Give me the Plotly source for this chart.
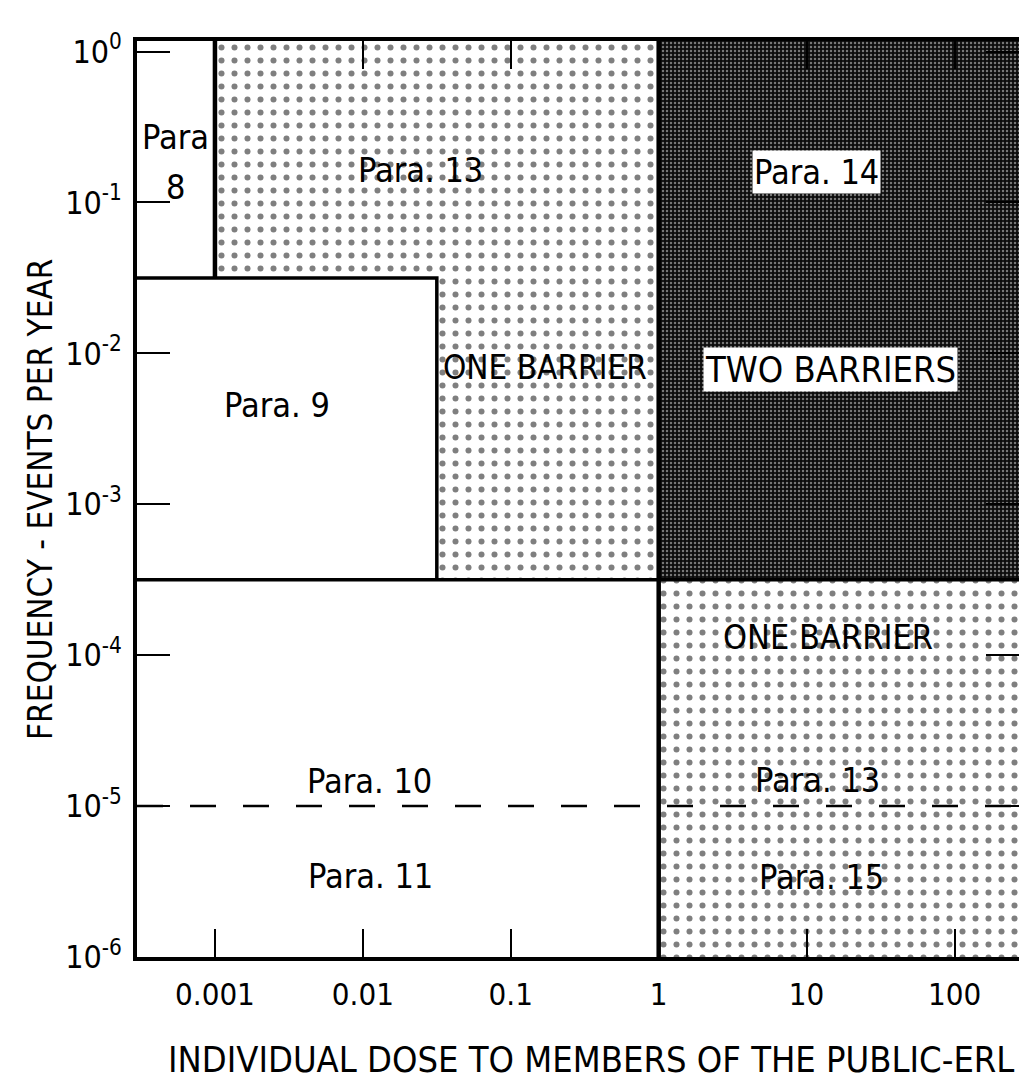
import math
import plotly.graph_objects as go

# ---- data (log-log dose / frequency diagram) ----
x_range_log = [-3.527, 2.436]          # visible dose range (log10)
y_range_log = [-6.0, 0.07]             # visible frequency range (log10)
x_min, x_max = 10 ** x_range_log[0], 10 ** x_range_log[1]
y_min, y_max = 10 ** y_range_log[0], 10 ** y_range_log[1]

dose_para8_limit = 0.001               # right edge of Para 8 box
dose_para9_limit = 10 ** -1.5          # right edge of Para 9 box
dose_erl = 1.0                         # ERL boundary
freq_para9_top = 10 ** -1.5            # top of Para 9 box
freq_limit = 10 ** -3.5                # main horizontal boundary
freq_dashed = 1e-5                     # Para 10 / Para 11 boundary

x_tickvals = [0.001, 0.01, 0.1, 1, 10, 100]
x_ticktext = ["0.001", "0.01", "0.1", "1", "10", "100"]
y_tickvals = [1e-6, 1e-5, 1e-4, 1e-3, 1e-2, 1e-1, 1]
y_ticktext = ["10<sup>-6</sup>", "10<sup>-5</sup>", "10<sup>-4</sup>", "10<sup>-3</sup>",
              "10<sup>-2</sup>", "10<sup>-1</sup>", "10<sup>0</sup>"]

label_text = ["Para", "8", "Para. 13", "Para. 9", "ONE BARRIER", "Para. 14", "TWO BARRIERS",
              "ONE BARRIER", "Para. 10", "Para. 11", "Para. 13", "Para. 15"]
label_x = [10 ** -3.264, 10 ** -3.264, 10 ** -1.612, 10 ** -2.579, 10 ** -0.771, 10 ** 1.064,
           10 ** 1.163, 10 ** 1.145, 10 ** -1.954, 10 ** -1.948, 10 ** 1.077, 10 ** 1.098]
label_y = [10 ** -0.565, 10 ** -0.896, 10 ** -0.783, 10 ** -2.343, 10 ** -2.092, 10 ** -0.796,
           10 ** -2.105, 10 ** -3.877, 10 ** -4.834, 10 ** -5.463, 10 ** -4.83, 10 ** -5.469]
label_size = [34, 34, 34, 34, 33, 34, 36, 34, 34, 34, 34, 34]
label_boxed = [False, False, False, False, False, True, True, False, False, False, False, False]

FONT = "DejaVu Sans Condensed, DejaVu Sans, sans-serif"
dots = dict(shape=".", size=13, solidity=0.17, fgcolor="black", bgcolor="white")

fig = go.Figure()

# dotted region (Para 13 upper) - L shape around the Para 9 box
fig.add_trace(go.Scatter(
    x=[dose_para8_limit, dose_erl, dose_erl, dose_para9_limit, dose_para9_limit, dose_para8_limit, dose_para8_limit],
    y=[y_max, y_max, freq_limit, freq_limit, freq_para9_top, freq_para9_top, y_max],
    fill="toself", fillcolor="white", fillpattern=dots, mode="lines",
    line=dict(width=0, color="rgba(0,0,0,0)"), hoverinfo="skip", showlegend=False))

# dark region (Para 14, two barriers)
fig.add_trace(go.Scatter(
    x=[dose_erl, x_max, x_max, dose_erl, dose_erl],
    y=[freq_limit, freq_limit, y_max, y_max, freq_limit],
    fill="toself", fillcolor="#1c1c1c",
    fillpattern=dict(shape=".", size=4, solidity=0.3, fgcolor="#e0e0e0", bgcolor="#0c0c0c"),
    mode="lines", line=dict(width=0, color="rgba(0,0,0,0)"), hoverinfo="skip", showlegend=False))

# dotted region lower right (one barrier)
fig.add_trace(go.Scatter(
    x=[dose_erl, x_max, x_max, dose_erl, dose_erl],
    y=[y_min, y_min, freq_limit, freq_limit, y_min],
    fill="toself", fillcolor="white", fillpattern=dots, mode="lines",
    line=dict(width=0, color="rgba(0,0,0,0)"), hoverinfo="skip", showlegend=False))

line_style = dict(color="black", width=3.5)
# Para 8 right edge
fig.add_trace(go.Scatter(x=[dose_para8_limit, dose_para8_limit], y=[freq_para9_top, y_max],
                         mode="lines", line=dict(color="black", width=4.5), hoverinfo="skip", showlegend=False))
# Para 9 box
fig.add_trace(go.Scatter(x=[x_min, dose_para9_limit, dose_para9_limit],
                         y=[freq_para9_top, freq_para9_top, freq_limit],
                         mode="lines", line=line_style, hoverinfo="skip", showlegend=False))
# main horizontal boundary
fig.add_trace(go.Scatter(x=[x_min, x_max], y=[freq_limit, freq_limit],
                         mode="lines", line=line_style, hoverinfo="skip", showlegend=False))
# ERL vertical boundary
fig.add_trace(go.Scatter(x=[dose_erl, dose_erl], y=[y_min, y_max],
                         mode="lines", line=dict(color="black", width=4.5), hoverinfo="skip", showlegend=False))
# dashed line
fig.add_trace(go.Scatter(x=[x_min, x_max], y=[freq_dashed, freq_dashed],
                         mode="lines", line=dict(color="black", width=2.5, dash="26px,27px"),
                         hoverinfo="skip", showlegend=False))

for t, lx, ly, sz, boxed in zip(label_text, label_x, label_y, label_size, label_boxed):
    # annotations on log axes are positioned in log10 units
    fig.add_annotation(x=math.log10(lx), y=math.log10(ly), xref="x", yref="y", text=t, showarrow=False,
                       font=dict(family=FONT, size=sz, color="black"),
                       bgcolor="white" if boxed else None, borderpad=1,
                       xanchor="center", yanchor="middle")

fig.add_annotation(x=0.515, y=-0.112, xref="paper", yref="paper",
                   text="INDIVIDUAL DOSE TO MEMBERS OF THE PUBLIC-ERL", showarrow=False,
                   font=dict(family=FONT, size=36, color="black"), xanchor="center", yanchor="middle")
fig.add_annotation(x=-0.11, y=0.50, xref="paper", yref="paper",
                   text="FREQUENCY - EVENTS PER YEAR", showarrow=False, textangle=-90,
                   font=dict(family=FONT, size=33, color="black"), xanchor="center", yanchor="middle")

fig.update_xaxes(type="log", range=x_range_log, tickvals=x_tickvals, ticktext=x_ticktext,
                 ticks="inside", ticklen=28, tickwidth=2, tickcolor="black",
                 showline=True, linewidth=3.5, linecolor="black", mirror="allticks",
                 showgrid=False, zeroline=False, ticklabelstandoff=7,
                 tickfont=dict(family=FONT, size=31, color="black"))
fig.update_yaxes(type="log", range=y_range_log, tickvals=y_tickvals, ticktext=y_ticktext,
                 ticks="inside", ticklen=33, tickwidth=2, tickcolor="black",
                 showline=True, linewidth=3.5, linecolor="black", mirror="allticks",
                 showgrid=False, zeroline=False, ticklabelstandoff=5,
                 tickfont=dict(family=FONT, size=32, color="black"))

# margins compensate for the default page margin of the html body
fig.update_layout(width=1027, height=1081, margin=dict(l=129, r=13, t=33, b=132),
                  plot_bgcolor="white", paper_bgcolor="white", showlegend=False)

fig.write_html("out.html", config={"displayModeBar": False})
